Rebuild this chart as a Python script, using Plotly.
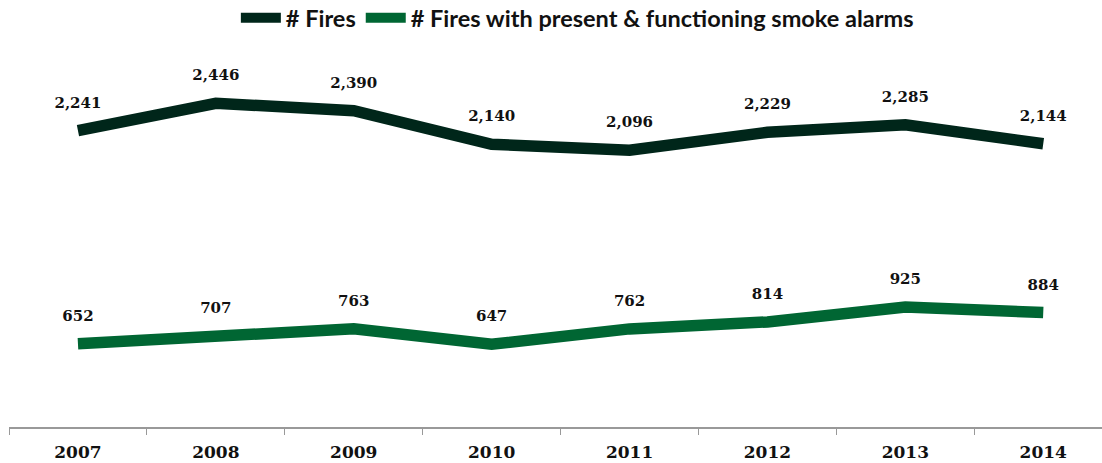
import plotly.graph_objects as go

years = ["2007", "2008", "2009", "2010", "2011", "2012", "2013", "2014"]
fires = [2241, 2446, 2390, 2140, 2096, 2229, 2285, 2144]
fires_alarms = [652, 707, 763, 647, 762, 814, 925, 884]

series = [
    ("# Fires", fires, "#00261a"),
    ("# Fires with present & functioning smoke alarms", fires_alarms, "#006633"),
]

fig = go.Figure()
for name, vals, color in series:
    fig.add_trace(go.Scatter(
        x=years, y=vals, name=name, mode="lines",
        line=dict(color=color, width=11.5), hoverinfo="skip",
    ))
for name, vals, color in series:
    fig.add_trace(go.Scatter(
        x=years, y=vals, mode="markers+text", showlegend=False,
        marker=dict(size=29, color="rgba(0,0,0,0)"),
        text=[f"{v:,}" for v in vals], textposition="top center",
        textfont=dict(family="DejaVu Serif", size=15, color="#111111", weight="bold"),
        hoverinfo="skip",
    ))

fig.update_layout(
    width=1102, height=463,
    margin=dict(l=9, r=0, t=29, b=36, autoexpand=False),
    paper_bgcolor="white", plot_bgcolor="white",
    showlegend=True,
    legend=dict(
        orientation="h", x=0.52, xanchor="center", y=1.028, yanchor="middle",
        font=dict(family="Lato, sans-serif", size=23.5, color="#111111", weight="bold"),
        itemwidth=40, traceorder="normal",
    ),
    xaxis=dict(
        type="category", range=[-0.5, 7.426],
        showgrid=False, showline=True, linecolor="#999999", linewidth=1.5,
        ticks="outside", tickson="boundaries", ticklen=6, tickcolor="#999999",
        tickfont=dict(family="DejaVu Serif", size=17, color="#111111", weight="bold"),
        ticklabelstandoff=9,
        zeroline=False, automargin=False,
    ),
    yaxis=dict(
        range=[30, 3000], showticklabels=False, showline=False, ticks="",
        showgrid=False, zeroline=False,
    ),
)

fig.write_html("out.html", config={"displayModeBar": False},
               post_script="document.body.style.margin='0';")
